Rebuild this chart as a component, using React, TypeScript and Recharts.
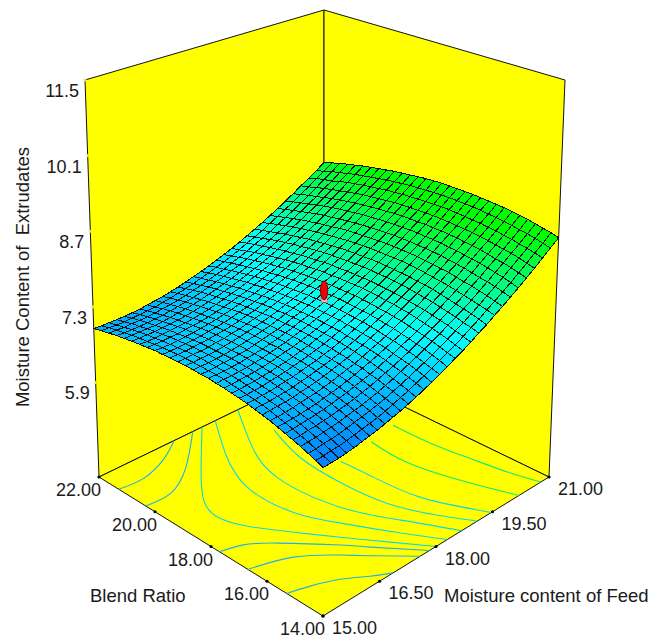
import { Scatter, ScatterChart, XAxis, YAxis } from "recharts";

const WIDTH = 662;
const HEIGHT = 638;

const moistureTicks = [15, 16.5, 18, 19.5, 21];
const blendTicks = [14, 16, 18, 20, 22];
const heightTicks = [5.9, 7.3, 8.7, 10.1, 11.5];
const HEIGHT_MIN = 4.15;
const HEIGHT_MAX = 11.5;

// predicted moisture content
// rows: blend ratio 14 -> 22, columns: moisture of feed 15 -> 21
const surfaceRows = [
  [6.59,6.60,6.61,6.63,6.65,6.68,6.71,6.74,6.78,6.82,6.86,6.91,6.96,7.02,7.08,7.15,7.21,7.29,7.36,7.44,7.53,7.61,7.71,7.80,7.90,8.00,8.11,8.22,8.34,8.46,8.58],
  [6.64,6.65,6.67,6.68,6.70,6.73,6.76,6.79,6.82,6.86,6.91,6.96,7.01,7.07,7.13,7.19,7.26,7.33,7.40,7.48,7.57,7.65,7.75,7.84,7.94,8.04,8.15,8.26,8.38,8.49,8.62],
  [6.69,6.70,6.72,6.73,6.75,6.78,6.81,6.84,6.87,6.91,6.95,7.00,7.05,7.11,7.17,7.23,7.30,7.37,7.44,7.52,7.60,7.69,7.78,7.88,7.98,8.08,8.19,8.30,8.41,8.53,8.65],
  [6.74,6.75,6.76,6.78,6.80,6.82,6.85,6.88,6.91,6.95,6.99,7.04,7.09,7.15,7.21,7.27,7.34,7.41,7.48,7.56,7.64,7.72,7.81,7.91,8.01,8.11,8.22,8.33,8.44,8.56,8.68],
  [6.78,6.79,6.81,6.82,6.84,6.86,6.89,6.92,6.95,6.99,7.03,7.08,7.13,7.18,7.24,7.30,7.37,7.44,7.51,7.59,7.67,7.75,7.84,7.94,8.03,8.14,8.24,8.35,8.47,8.58,8.71],
  [6.82,6.83,6.85,6.86,6.88,6.90,6.93,6.96,6.99,7.03,7.07,7.11,7.16,7.22,7.27,7.34,7.40,7.47,7.54,7.62,7.70,7.78,7.87,7.96,8.06,8.17,8.27,8.38,8.49,8.61,8.73],
  [6.86,6.87,6.88,6.89,6.91,6.93,6.96,6.99,7.02,7.06,7.10,7.15,7.20,7.25,7.31,7.37,7.43,7.50,7.57,7.65,7.73,7.81,7.90,7.99,8.09,8.19,8.30,8.40,8.52,8.63,8.75],
  [6.90,6.90,6.91,6.93,6.95,6.97,6.99,7.02,7.05,7.09,7.13,7.17,7.22,7.28,7.33,7.39,7.46,7.53,7.60,7.67,7.75,7.84,7.92,8.02,8.11,8.21,8.32,8.42,8.53,8.65,8.77],
  [6.93,6.94,6.95,6.96,6.97,7.00,7.02,7.05,7.08,7.12,7.16,7.20,7.25,7.30,7.36,7.42,7.48,7.55,7.62,7.69,7.77,7.86,7.94,8.03,8.13,8.23,8.33,8.44,8.55,8.66,8.78],
  [6.96,6.97,6.97,6.99,7.00,7.02,7.05,7.07,7.11,7.14,7.18,7.22,7.27,7.32,7.38,7.44,7.50,7.57,7.64,7.71,7.79,7.87,7.96,8.05,8.15,8.24,8.35,8.45,8.56,8.68,8.79],
  [6.99,6.99,7.00,7.01,7.03,7.05,7.07,7.10,7.13,7.16,7.20,7.24,7.29,7.34,7.40,7.46,7.52,7.58,7.65,7.73,7.81,7.89,7.98,8.06,8.16,8.26,8.36,8.46,8.57,8.69,8.80],
  [7.01,7.01,7.02,7.03,7.05,7.07,7.09,7.12,7.15,7.18,7.22,7.26,7.31,7.36,7.41,7.47,7.53,7.60,7.67,7.74,7.82,7.90,7.99,8.08,8.17,8.27,8.37,8.47,8.58,8.69,8.81],
  [7.03,7.03,7.04,7.05,7.07,7.08,7.11,7.13,7.16,7.20,7.23,7.28,7.32,7.37,7.43,7.48,7.54,7.61,7.68,7.75,7.83,7.91,8.00,8.08,8.17,8.27,8.37,8.48,8.59,8.70,8.81],
  [7.05,7.05,7.06,7.07,7.08,7.10,7.12,7.15,7.18,7.21,7.25,7.29,7.33,7.38,7.43,7.49,7.55,7.62,7.69,7.76,7.83,7.91,8.00,8.09,8.18,8.28,8.38,8.48,8.59,8.70,8.81],
  [7.06,7.07,7.07,7.08,7.09,7.11,7.13,7.16,7.19,7.22,7.26,7.30,7.34,7.39,7.44,7.50,7.56,7.62,7.69,7.76,7.84,7.92,8.00,8.09,8.18,8.28,8.37,8.48,8.58,8.70,8.81],
  [7.08,7.08,7.08,7.09,7.10,7.12,7.14,7.16,7.19,7.22,7.26,7.30,7.35,7.39,7.45,7.50,7.56,7.62,7.69,7.76,7.84,7.92,8.00,8.09,8.18,8.27,8.37,8.47,8.58,8.69,8.81],
  [7.08,7.08,7.09,7.10,7.11,7.13,7.14,7.17,7.20,7.23,7.26,7.30,7.35,7.39,7.45,7.50,7.56,7.62,7.69,7.76,7.83,7.91,8.00,8.08,8.17,8.27,8.37,8.47,8.57,8.68,8.80],
  [7.09,7.09,7.09,7.10,7.11,7.13,7.15,7.17,7.20,7.23,7.26,7.30,7.35,7.39,7.44,7.50,7.56,7.62,7.68,7.75,7.83,7.91,7.99,8.07,8.16,8.26,8.36,8.46,8.56,8.67,8.79],
  [7.09,7.09,7.10,7.10,7.11,7.13,7.15,7.17,7.20,7.23,7.26,7.30,7.34,7.39,7.44,7.49,7.55,7.61,7.68,7.75,7.82,7.90,7.98,8.06,8.15,8.25,8.34,8.45,8.55,8.66,8.77],
  [7.09,7.09,7.10,7.10,7.11,7.13,7.14,7.17,7.19,7.22,7.26,7.29,7.34,7.38,7.43,7.48,7.54,7.60,7.67,7.74,7.81,7.89,7.97,8.05,8.14,8.23,8.33,8.43,8.53,8.64,8.75],
  [7.09,7.09,7.09,7.10,7.11,7.12,7.14,7.16,7.18,7.21,7.25,7.28,7.33,7.37,7.42,7.47,7.53,7.59,7.65,7.72,7.80,7.87,7.95,8.04,8.12,8.22,8.31,8.41,8.52,8.62,8.73],
  [7.08,7.08,7.08,7.09,7.10,7.11,7.13,7.15,7.17,7.20,7.24,7.27,7.31,7.36,7.40,7.46,7.51,7.57,7.64,7.71,7.78,7.85,7.93,8.02,8.10,8.20,8.29,8.39,8.49,8.60,8.71],
  [7.08,7.07,7.07,7.08,7.09,7.10,7.12,7.14,7.16,7.19,7.22,7.26,7.30,7.34,7.39,7.44,7.50,7.56,7.62,7.69,7.76,7.83,7.91,7.99,8.08,8.17,8.27,8.37,8.47,8.57,8.68],
  [7.06,7.06,7.06,7.07,7.07,7.09,7.10,7.12,7.14,7.17,7.20,7.24,7.28,7.32,7.37,7.42,7.47,7.53,7.60,7.66,7.73,7.81,7.89,7.97,8.05,8.15,8.24,8.34,8.44,8.54,8.65],
  [7.05,7.04,7.04,7.05,7.06,7.07,7.08,7.10,7.12,7.15,7.18,7.22,7.26,7.30,7.35,7.40,7.45,7.51,7.57,7.64,7.71,7.78,7.86,7.94,8.03,8.12,8.21,8.31,8.41,8.51,8.62],
  [7.03,7.03,7.03,7.03,7.04,7.05,7.06,7.08,7.10,7.13,7.16,7.19,7.23,7.27,7.32,7.37,7.42,7.48,7.54,7.61,7.68,7.75,7.83,7.91,8.00,8.09,8.18,8.27,8.38,8.48,8.59],
  [7.01,7.01,7.01,7.01,7.01,7.02,7.04,7.06,7.08,7.10,7.13,7.17,7.21,7.25,7.29,7.34,7.39,7.45,7.51,7.58,7.65,7.72,7.80,7.88,7.96,8.05,8.14,8.24,8.34,8.44,8.55],
  [6.99,6.98,6.98,6.98,6.99,7.00,7.01,7.03,7.05,7.08,7.10,7.14,7.18,7.22,7.26,7.31,7.36,7.42,7.48,7.54,7.61,7.68,7.76,7.84,7.92,8.01,8.10,8.20,8.29,8.40,8.51],
  [6.96,6.96,6.95,6.96,6.96,6.97,6.98,7.00,7.02,7.04,7.07,7.11,7.14,7.18,7.23,7.27,7.33,7.38,7.44,7.51,7.57,7.64,7.72,7.80,7.88,7.97,8.06,8.16,8.26,8.36,8.47],
  [6.93,6.93,6.92,6.92,6.93,6.94,6.95,6.96,6.99,7.01,7.04,7.07,7.11,7.15,7.19,7.24,7.29,7.34,7.40,7.47,7.53,7.60,7.68,7.76,7.84,7.93,8.02,8.11,8.22,8.31,8.42],
  [6.90,6.89,6.89,6.89,6.89,6.90,6.91,6.93,6.95,6.97,7.00,7.03,7.07,7.11,7.15,7.20,7.25,7.30,7.36,7.42,7.49,7.56,7.63,7.71,7.79,7.88,7.97,8.07,8.16,8.26,8.37],
];

// contour lines on the floor, [moisture, blend]
const blueContours = [
  [[15, 21.3], [15.64, 21.25], [16.4, 21.56], [17, 22]],
  [[15, 20.33], [15.67, 20.33], [16.5, 20.91], [17.5, 22]],
  [[15, 15.3], [15.48, 15.1], [16.03, 14.77], [16.49, 14.32], [16.86, 14]],
  [[15, 16.68], [15.9, 16.26], [16.57, 15.5], [16.95, 14.93], [17.58, 14]],
  [[15, 17.7], [15.49, 17.5], [16, 16.97], [16.8, 15.8], [17.15, 15.19], [17.83, 14]],
];
const cyanContours = [
  [[17.75, 22], [16.72, 20.66], [15.97, 19.56], [15.77, 18.79], [15.98, 18], [16.47, 17.02], [16.98, 16.04], [17.52, 14.98], [18, 14]],
  [[18.1, 22], [17.4, 20.69], [16.89, 19.22], [16.93, 17.64], [17.31, 16.47], [17.86, 15.07], [18.3, 14]],
  [[18.7, 22], [18, 20.59], [17.54, 19.02], [17.68, 16.96], [18.16, 15.47], [18.68, 14]],
  [[18.68, 20.68], [18.34, 19.26], [18.27, 17.75], [18.38, 16.24], [18.74, 14.94], [19.1, 14]],
  [[18.79, 18.45], [18.83, 17.43], [18.95, 15.82], [19.47, 14]],
];
const greenContours = [
  [[19.68, 18.56], [19.62, 17.31], [19.82, 15.8], [20.2, 14]],
  [[20.38, 18.72], [20.4, 17.39], [20.51, 16.12], [20.63, 14.96], [20.78, 14]],
];
const designPoint = { moisture: 18, blend: 18, value: 7.72, predicted: 7.5 };

type Pt = [number, number];
const floorFront: Pt = [323, 616];
const floorRight: Pt = [549, 477];
const floorBack: Pt = [324, 368];
const floorLeft: Pt = [99, 477];
const topFront: Pt = [324, 169];
const topRight: Pt = [565, 80];
const topBack: Pt = [324, 10];
const topLeft: Pt = [85, 80];

const bilerp = (f: Pt, r: Pt, b: Pt, l: Pt, u: number, v: number): Pt => [
  f[0] * (1 - u) * (1 - v) + r[0] * u * (1 - v) + l[0] * (1 - u) * v + b[0] * u * v,
  f[1] * (1 - u) * (1 - v) + r[1] * u * (1 - v) + l[1] * (1 - u) * v + b[1] * u * v,
];

// moisture, blend, height -> position on the chart's x and y axes
function project(moisture: number, blend: number, z: number): Pt {
  const u = (moisture - 15) / 6;
  const v = (blend - 14) / 8;
  const w = (z - HEIGHT_MIN) / (HEIGHT_MAX - HEIGHT_MIN);
  const low = bilerp(floorFront, floorRight, floorBack, floorLeft, u, v);
  const high = bilerp(topFront, topRight, topBack, topLeft, u, v);
  return [low[0] + (high[0] - low[0]) * w, low[1] + (high[1] - low[1]) * w];
}

function surfaceColor(z: number) {
  if (z <= 7.45) {
    const g = Math.max(0, 125 + ((z - 6.58) * 130) / 0.87);
    return `rgb(0,${Math.round(g)},255)`;
  }
  const b = Math.max(0, 255 - ((z - 7.45) * 255) / 1.1);
  return `rgb(0,255,${Math.round(b)})`;
}

const polygon = (pts: Pt[], fill: string, stroke: string, strokeWidth: number, crisp = false) => {
  const [x, y] = pts[0];
  return { x, y, pts, fill, stroke, strokeWidth, crisp };
};

const wallData = [
  polygon([floorLeft, topLeft, topBack, floorBack], "#ffff00", "#111", 1),
  polygon([floorRight, topRight, topBack, floorBack], "#ffff00", "#111", 1),
  polygon([floorFront, floorRight, floorBack, floorLeft], "#ffff00", "#111", 1),
];

const cellData: ReturnType<typeof polygon>[] = [];
for (let j = surfaceRows.length - 2; j >= 0; j--) {
  for (let i = surfaceRows[j].length - 2; i >= 0; i--) {
    const node = (a: number, b: number) =>
      project(15 + (a * 6) / 30, 14 + (b * 8) / 30, surfaceRows[b][a]);
    const mean =
      (surfaceRows[j][i] + surfaceRows[j][i + 1] + surfaceRows[j + 1][i] + surfaceRows[j + 1][i + 1]) / 4;
    cellData.push(
      polygon([node(i, j), node(i + 1, j), node(i + 1, j + 1), node(i, j + 1)], surfaceColor(mean), "#101010", 1, true),
    );
  }
}

const contourLine = (points: number[][]) =>
  points.map(([m, b]) => {
    const [x, y] = project(m, b, HEIGHT_MIN);
    return { x, y };
  });

const floorTickDots = [
  ...moistureTicks.map((m) => project(m, 14, HEIGHT_MIN)),
  ...blendTicks.map((b) => project(15, b, HEIGHT_MIN)),
].map(([x, y]) => ({ x, y }));

const heightTickDots = heightTicks.map((z) => {
  const [x, y] = project(15, 22, z);
  return { x, y };
});

const tickFont = { fontFamily: "Liberation Sans", fill: "#1a1a1a" };

const labelData = [
  ...moistureTicks.map((m) => {
    const [x, y] = project(m, 14, HEIGHT_MIN);
    return { x: x + 9, y: y + 12, text: m.toFixed(2), anchor: "start", size: 18 };
  }),
  ...blendTicks.map((b) => {
    const [x, y] = project(15, b, HEIGHT_MIN);
    return { x: x + 2, y: y + 13, text: b.toFixed(2), anchor: "end", size: 18 };
  }),
  ...heightTicks.map((z) => {
    const [x, y] = project(15, 22, z);
    return { x: x - 6, y: y + 11, text: z.toFixed(1), anchor: "end", size: 18 };
  }),
  { x: 90, y: 595, text: "Blend Ratio", anchor: "start", size: 18.5 },
  { x: 444, y: 595, text: "Moisture content of Feed", anchor: "start", size: 18.5 },
  { x: 22, y: 277, text: "Moisture Content of  Extrudates", anchor: "middle", size: 18.5, rotate: true },
];

function Poly(props: any) {
  const { cx, cy, payload } = props;
  const d = payload.pts.map((p: Pt) => `${p[0] - payload.x + cx},${p[1] - payload.y + cy}`).join(" ");
  return (
    <polygon
      points={d}
      fill={payload.fill}
      stroke={payload.stroke}
      strokeWidth={payload.strokeWidth}
      strokeLinejoin="round"
      shapeRendering={payload.crisp ? "crispEdges" : undefined}
    />
  );
}

function TextMark(props: any) {
  const { cx, cy, payload } = props;
  return (
    <text
      x={cx}
      y={cy}
      textAnchor={payload.anchor}
      dominantBaseline="central"
      fontSize={payload.size}
      transform={payload.rotate ? `rotate(-90 ${cx} ${cy})` : undefined}
      style={{ whiteSpace: "pre" }}
      {...tickFont}
    >
      {payload.text}
    </text>
  );
}

const Dot = (fill: string) => (props: any) => <circle cx={props.cx} cy={props.cy} r={1.6} fill={fill} />;
const NoDot = () => null;

function Marker(props: any) {
  const { cx, cy, payload } = props;
  return (
    <g>
      <rect x={cx - 3} y={cy + payload.stick - 4} width={6} height={4} fill="#f4b0b0" stroke="#c06060" strokeWidth={0.5} />
      <ellipse cx={cx} cy={cy} rx={3.6} ry={9.5} fill="#f00000" stroke="#800000" strokeWidth={1} />
    </g>
  );
}

const [markX, markY] = project(designPoint.moisture, designPoint.blend, designPoint.value);
const [, surfY] = project(designPoint.moisture, designPoint.blend, designPoint.predicted);
const markerData = [{ x: markX, y: markY, stick: surfY - markY }];

const lineWidth = 1.1;

export default function App() {
  return (
    <div style={{ position: "absolute", left: 0, top: 0, width: WIDTH, height: HEIGHT, background: "#fff" }}>
      <ScatterChart width={WIDTH} height={HEIGHT} margin={{ top: 0, right: 0, bottom: 0, left: 0 }}>
        <XAxis type="number" dataKey="x" domain={[0, WIDTH]} hide />
        <YAxis type="number" dataKey="y" domain={[0, HEIGHT]} reversed hide />
        <Scatter data={wallData} shape={Poly} isAnimationActive={false} />
        {blueContours.map((c, i) => (
          <Scatter key={`b${i}`} data={contourLine(c)} line={{ stroke: "#1fb0e8", strokeWidth: lineWidth }} lineJointType="natural" shape={NoDot} isAnimationActive={false} />
        ))}
        {cyanContours.map((c, i) => (
          <Scatter key={`c${i}`} data={contourLine(c)} line={{ stroke: "#10d8e0", strokeWidth: lineWidth }} lineJointType="natural" shape={NoDot} isAnimationActive={false} />
        ))}
        {greenContours.map((c, i) => (
          <Scatter key={`g${i}`} data={contourLine(c)} line={{ stroke: "#10e878", strokeWidth: lineWidth }} lineJointType="natural" shape={NoDot} isAnimationActive={false} />
        ))}
        <Scatter data={cellData} shape={Poly} isAnimationActive={false} />
        <Scatter data={floorTickDots} shape={Dot("#000")} isAnimationActive={false} />
        <Scatter data={heightTickDots} shape={Dot("#e8e840")} isAnimationActive={false} />
        <Scatter data={markerData} shape={Marker} isAnimationActive={false} />
        <Scatter data={labelData} shape={TextMark} isAnimationActive={false} />
      </ScatterChart>
    </div>
  );
}
